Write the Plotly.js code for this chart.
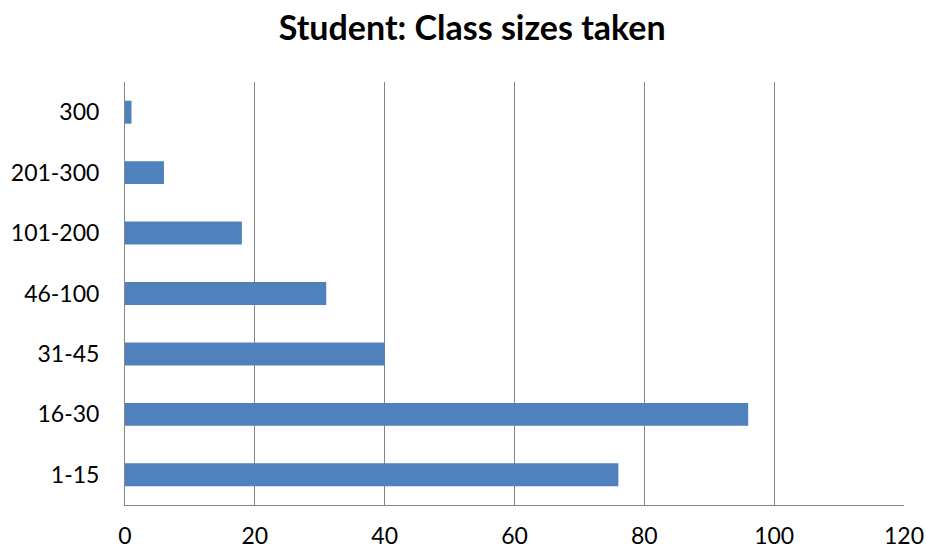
<!DOCTYPE html>
<html><head><meta charset="utf-8">
<script src="https://cdn.plot.ly/plotly-3.0.1.min.js"></script>
<style>body{margin:0;background:#fff}#chart{width:926px;height:552px}</style>
</head><body><div id="chart"></div>
<script>
const categories = ["1-15","16-30","31-45","46-100","101-200","201-300","300"];
const values = [76, 96, 40, 31, 18, 6, 1];
const xTicks = [0,20,40,60,80,100,120];

Plotly.newPlot('chart', [{
  type: 'bar', orientation: 'h',
  y: categories, x: values,
  marker: {color: '#4F81BD', line: {width: 0}},
  hoverinfo: 'none'
}], {
  width: 926, height: 552,
  margin: {l: 125, r: 22, t: 82, b: 47},
  paper_bgcolor: '#fff', plot_bgcolor: '#fff',
  bargap: 0.62,
  font: {family: 'Lato, Carlito, "Liberation Sans", sans-serif', size: 23, color: '#000'},
  title: {text: '<b>Student: Class sizes taken</b>', x: 0.51, xanchor: 'center', y: 0.95, yanchor: 'middle',
          font: {size: 34, family: 'Lato, "Liberation Sans", sans-serif', color: '#000'}},
  xaxis: {range: [0,120], tickvals: xTicks, ticktext: xTicks.map(String),
          showgrid: true, gridcolor: '#868686', gridwidth: 1,
          showline: true, linecolor: '#868686', linewidth: 1, mirror: false,
          zeroline: false, ticks: '', ticklen: 0, ticklabelstandoff: 10, fixedrange: true,
          tickfont: {size: 23}},
  yaxis: {type: 'category', categoryorder: 'array', categoryarray: categories,
          showgrid: false, showline: true, linecolor: '#868686', linewidth: 1,
          ticks: '', ticklabelstandoff: 20, fixedrange: true,
          tickfont: {size: 23}},
  showlegend: false
}, {staticPlot: true});
</script></body></html>
